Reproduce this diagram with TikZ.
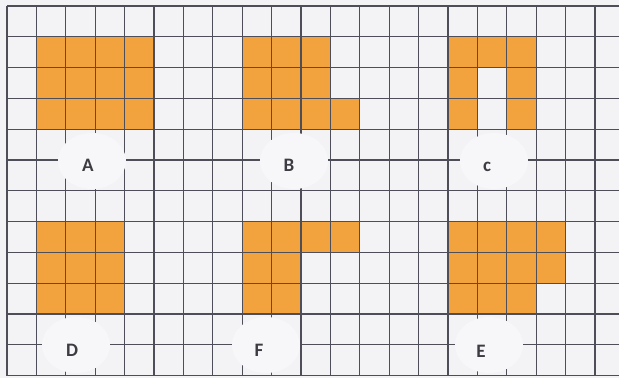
\documentclass[tikz,border=0pt]{standalone}
\usepackage{fontspec}
\setmainfont{Carlito}
\usetikzlibrary{shapes.geometric}
\definecolor{paper}{RGB}{243,243,246}
\definecolor{blobwhite}{RGB}{247,247,249}
\definecolor{cellorange}{RGB}{242,163,62}
\definecolor{gridline}{RGB}{78,78,88}
\definecolor{labeltext}{RGB}{60,60,66}
\tikzset{
  cellfill/.style={fill=cellorange},
  gridstroke/.style={draw=gridline, line width=1.3pt},
  blob/.style={ellipse, fill=blobwhite, draw=none, minimum width=68pt, minimum height=56pt, inner sep=0pt},
  lettertext/.style={text=labeltext, font=\fontsize{19}{19}\selectfont\bfseries, inner sep=0pt}
}
\begin{document}
\begin{tikzpicture}[x=1pt,y=-1pt]
\useasboundingbox (0,0) rectangle (619,378);
\fill[paper] (0,0) rectangle (619,378);
% orange cells (column/row indices)
\foreach \c/\r in {1/1,2/1,3/1,4/1,1/2,2/2,3/2,4/2,1/3,2/3,3/3,4/3,
                   8/1,9/1,10/1,8/2,9/2,10/2,8/3,9/3,10/3,11/3,
                   15/1,16/1,17/1,15/2,17/2,15/3,17/3,
                   1/7,2/7,3/7,1/8,2/8,3/8,1/9,2/9,3/9,
                   8/7,9/7,10/7,11/7,8/8,9/8,8/9,9/9,
                   15/7,16/7,17/7,18/7,15/8,16/8,17/8,18/8,15/9,16/9,17/9}
  \fill[cellfill] ({7+29.4*\c},{6+30.8*\r}) rectangle ++(29.4,30.8);
% grid
\foreach \i in {0,...,20}
  \draw[gridstroke] ({7+29.4*\i},6) -- ({7+29.4*\i},376);
\foreach \j in {0,...,12}
  \draw[gridstroke] (7,{6+30.8*\j}) -- (619,{6+30.8*\j});
% label blobs
\node[blob] (blobA) at (92,161) {};
\node[blob] (blobB) at (294,161) {};
\node[blob] (blobC) at (494,161) {};
\node[blob] (blobD) at (76,345) {};
\node[blob] (blobF) at (266,345) {};
\node[blob] (blobE) at (489,345) {};
% labels
\node[lettertext] (A) at (88,165) {A};
\node[lettertext] (B) at (289,165) {B};
\node[lettertext] (C) at (487,167) {c};
\node[lettertext] (D) at (72,350) {D};
\node[lettertext] (F) at (259,350) {F};
\node[lettertext] (E) at (481,351) {E};
\end{tikzpicture}
\end{document}
